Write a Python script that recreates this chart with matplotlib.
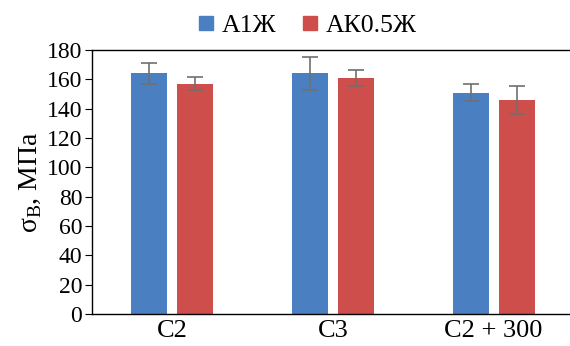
import matplotlib
matplotlib.use("Agg")
import matplotlib.pyplot as plt
import numpy as np

plt.rcParams['font.family'] = ['Liberation Serif', 'DejaVu Serif']
plt.rcParams['mathtext.fontset'] = 'custom'
plt.rcParams['mathtext.rm'] = 'Liberation Serif'

groups = ["C2", "C3", "C2 + 300"]
series = ["А1Ж", "АК0.5Ж"]
a1zh = [164, 164, 151]
a1zh_err = [7, 11, 6]
ak05zh = [157, 161, 146]
ak05zh_err = [4.5, 5.5, 9.5]
colors = ["#4a7fc1", "#cd4e4b"]

fig = plt.figure(figsize=(5.7, 3.46), dpi=100)
ax = fig.add_axes([92 / 570, 1 - 314 / 346, 482 / 570, 264 / 346])

x = np.arange(len(groups))
w = 0.224
off = 0.143
ekw = dict(ecolor="#707070", elinewidth=1.2, capthick=1.2)
ax.bar(x - off, a1zh, w, color=colors[0], label=series[0],
       yerr=a1zh_err, capsize=5.5, error_kw=ekw)
ax.bar(x + off, ak05zh, w, color=colors[1], label=series[1],
       yerr=ak05zh_err, capsize=5.5, error_kw=ekw)

ax.set_xlim(-0.5, 2.5)
ax.set_ylim(0, 180)
ax.set_yticks(range(0, 181, 20))
ax.set_xticks(x)
ax.set_xticklabels(groups)
ax.tick_params(axis='x', length=0, labelsize=19, pad=4)
ax.tick_params(axis='y', length=5, labelsize=17, direction='out', pad=2)
ax.spines['right'].set_visible(False)
for s in ['left', 'bottom', 'top']:
    ax.spines[s].set_linewidth(1.0)

ax.set_ylabel("σ$_\\mathregular{В}$, МПа", fontsize=20, labelpad=2)

handles = [plt.Line2D([], [], marker='s', linestyle='', color=c, markersize=10) for c in colors]
fig.legend(handles, series, loc='center', bbox_to_anchor=(305 / 570, 1 - 26 / 346),
           ncol=2, frameon=False, fontsize=18.5, handletextpad=0.1, columnspacing=0.8,
           handlelength=1.0, borderpad=0)

fig.savefig("out.png", dpi=100)
